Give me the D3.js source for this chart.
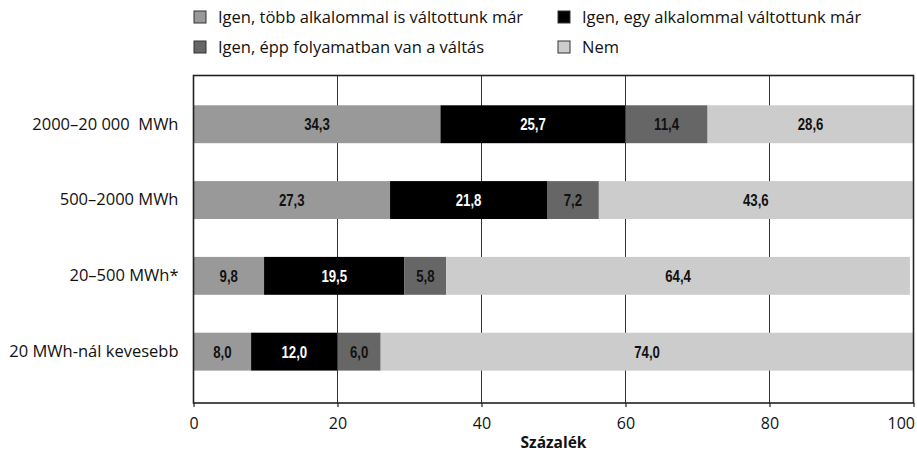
<!DOCTYPE html>
<html><head><meta charset="utf-8">
<script src="https://cdn.jsdelivr.net/npm/d3@7"></script>
<style>
body{margin:0;background:#fff;}
svg{display:block;}
text{font-family:"Open Sans","Noto Sans",sans-serif;}
.val{font-family:"Liberation Sans",Arial,sans-serif;font-weight:bold;font-size:16.5px;}
</style></head>
<body>
<svg id="chart" width="917" height="455"></svg>
<script>
const categories = ["2000–20 000  MWh","500–2000 MWh","20–500 MWh*","20 MWh-nál kevesebb"];
const seriesNames = ["Igen, több alkalommal is váltottunk már","Igen, egy alkalommal váltottunk már","Igen, épp folyamatban van a váltás","Nem"];
const seriesColors = ["#999999","#000000","#666666","#cccccc"];
const labelColors = ["#111111","#ffffff","#111111","#111111"];
const s1 = [34.3, 27.3, 9.8, 8.0];
const s2 = [25.7, 21.8, 19.5, 12.0];
const s3 = [11.4, 7.2, 5.8, 6.0];
const s4 = [28.6, 43.6, 64.4, 74.0];
const xTicks = [0,20,40,60,80,100];
const xTitle = "Százalék";

const svg = d3.select("#chart");
const L = 193.5, R = 913.5, T = 75.5, B = 403;
const x = d3.scaleLinear().domain([0,100]).range([L,R]);
const y = d3.scaleBand().domain(categories).range([67.4, 408.5]).paddingInner(0.5).paddingOuter(0.5);

const stackData = categories.map((c,i)=>({cat:c, s0:s1[i], s1:s2[i], s2:s3[i], s3:s4[i]}));
const stack = d3.stack().keys(["s0","s1","s2","s3"])(stackData);

// gridlines
svg.append("g").selectAll("line").data(xTicks.filter(t=>t>0&&t<100)).join("line")
  .attr("x1",d=>x(d)).attr("x2",d=>x(d)).attr("y1",T).attr("y2",B)
  .attr("stroke","#333").attr("stroke-width",1);

// bars
const g = svg.append("g");
stack.forEach((layer,j)=>{
  g.append("g").selectAll("rect").data(layer).join("rect")
    .attr("x",d=>x(d[0])).attr("width",d=>x(d[1])-x(d[0]))
    .attr("y",d=>y(d.data.cat)).attr("height",y.bandwidth())
    .attr("fill",seriesColors[j]);
  g.append("g").selectAll("text").data(layer).join("text")
    .attr("class","val")
    .attr("transform",d=>`translate(${(x(d[0])+x(d[1]))/2},${y(d.data.cat)+y.bandwidth()/2}) scale(0.8,1)`)
    .attr("text-anchor","middle").attr("dy","0.36em")
    .attr("fill",labelColors[j])
    .text(d=>d3.format(".1f")(d[1]-d[0]).replace(".",","));
});

// frame
svg.append("rect").attr("x",L).attr("y",T).attr("width",R-L).attr("height",B-T)
  .attr("fill","none").attr("stroke","#222").attr("stroke-width",1.6);

// x axis
const xAxis = svg.append("g").attr("transform",`translate(0,${B})`)
  .call(d3.axisBottom(x).tickValues(xTicks).tickSize(4).tickPadding(11).tickFormat(d3.format("d")));
xAxis.select(".domain").remove();
xAxis.selectAll(".tick line").attr("stroke","#222").attr("stroke-width",1.2);
xAxis.selectAll(".tick text").attr("font-size","16px").attr("fill","#111").attr("font-family",'"Open Sans",sans-serif');
xAxis.selectAll(".tick text").filter(d=>d===100).attr("text-anchor","end").attr("x",1);

svg.append("text").attr("x",(L+R)/2).attr("y",448).attr("text-anchor","middle")
  .attr("font-size","15.5px").attr("font-weight","bold").attr("fill","#111").text(xTitle);

// y labels
const yAxis = svg.append("g").attr("transform",`translate(${L},0)`)
  .call(d3.axisLeft(y).tickSize(0).tickPadding(15));
yAxis.select(".domain").remove();
yAxis.selectAll(".tick text").attr("font-size","16.5px").attr("fill","#111")
  .attr("font-family",'"Open Sans",sans-serif').style("white-space","pre");

// legend
const legPos = [[194,11],[558,11],[194,41],[558,41]];
const leg = svg.append("g").selectAll("g").data(seriesNames).join("g")
  .attr("transform",(d,i)=>`translate(${legPos[i][0]},${legPos[i][1]})`);
leg.append("rect").attr("width",12).attr("height",12).attr("fill",(d,i)=>seriesColors[i])
  .attr("stroke","#333").attr("stroke-width",1);
leg.append("text").attr("x",24).attr("y",6).attr("dy","0.35em").attr("font-size","16.5px").attr("fill","#111").text(d=>d);
</script>
</body></html>
